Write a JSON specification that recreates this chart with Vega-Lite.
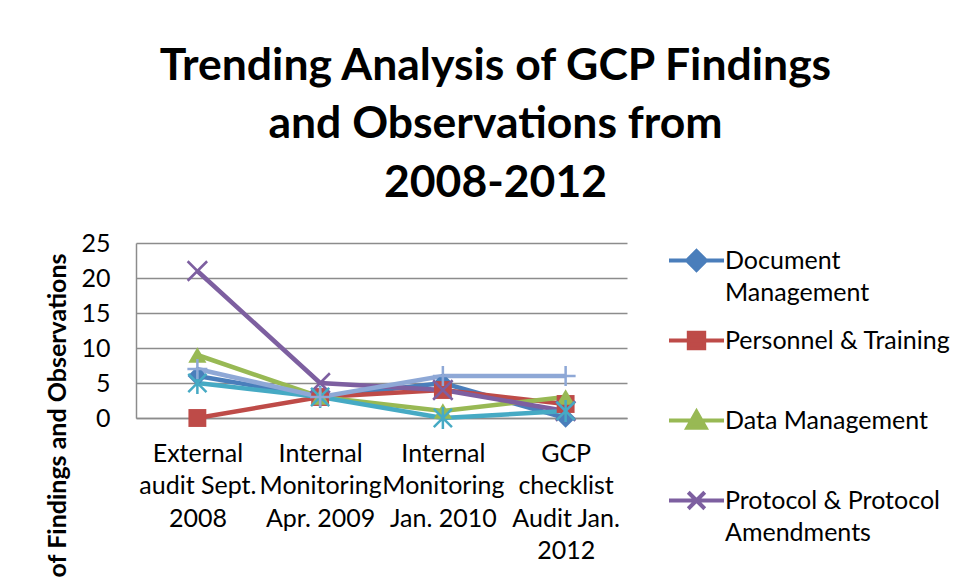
{
  "$schema": "https://vega.github.io/schema/vega-lite/v6.json",
  "width": 491,
  "height": 175,
  "autosize": {"type": "none"},
  "padding": {"left": 136, "top": 243, "right": 337, "bottom": 159},
  "background": "white",
  "title": {
    "text": ["Trending Analysis of  GCP Findings", "and Observations from", "2008-2012"],
    "font": "Lato",
    "fontWeight": "bold",
    "fontSize": 44.5,
    "lineHeight": 58.5,
    "color": "#000000",
    "anchor": "middle",
    "frame": "group",
    "dx": 114,
    "offset": 25
  },
  "data": {
    "values": [
      {"period": "External audit Sept. 2008", "series": "Document Management", "count": 6},
      {"period": "Internal Monitoring Apr. 2009", "series": "Document Management", "count": 3},
      {"period": "Internal Monitoring Jan. 2010", "series": "Document Management", "count": 5},
      {"period": "GCP checklist Audit Jan. 2012", "series": "Document Management", "count": 0},
      {"period": "External audit Sept. 2008", "series": "Personnel & Training", "count": 0},
      {"period": "Internal Monitoring Apr. 2009", "series": "Personnel & Training", "count": 3},
      {"period": "Internal Monitoring Jan. 2010", "series": "Personnel & Training", "count": 4},
      {"period": "GCP checklist Audit Jan. 2012", "series": "Personnel & Training", "count": 2},
      {"period": "External audit Sept. 2008", "series": "Data Management", "count": 9},
      {"period": "Internal Monitoring Apr. 2009", "series": "Data Management", "count": 3},
      {"period": "Internal Monitoring Jan. 2010", "series": "Data Management", "count": 1},
      {"period": "GCP checklist Audit Jan. 2012", "series": "Data Management", "count": 3},
      {"period": "External audit Sept. 2008", "series": "Protocol & Protocol Amendments", "count": 21},
      {"period": "Internal Monitoring Apr. 2009", "series": "Protocol & Protocol Amendments", "count": 5},
      {"period": "Internal Monitoring Jan. 2010", "series": "Protocol & Protocol Amendments", "count": 4},
      {"period": "GCP checklist Audit Jan. 2012", "series": "Protocol & Protocol Amendments", "count": 1},
      {"period": "External audit Sept. 2008", "series": "Informed Consent", "count": 5},
      {"period": "Internal Monitoring Apr. 2009", "series": "Informed Consent", "count": 3},
      {"period": "Internal Monitoring Jan. 2010", "series": "Informed Consent", "count": 0},
      {"period": "GCP checklist Audit Jan. 2012", "series": "Informed Consent", "count": 1},
      {"period": "External audit Sept. 2008", "series": "Safety Reporting", "count": 7},
      {"period": "Internal Monitoring Apr. 2009", "series": "Safety Reporting", "count": 3},
      {"period": "Internal Monitoring Jan. 2010", "series": "Safety Reporting", "count": 6},
      {"period": "GCP checklist Audit Jan. 2012", "series": "Safety Reporting", "count": 6}
    ]
  },
  "encoding": {
    "x": {
      "field": "period",
      "type": "nominal",
      "sort": ["External audit Sept. 2008", "Internal Monitoring Apr. 2009", "Internal Monitoring Jan. 2010", "GCP checklist Audit Jan. 2012"],
      "axis": {
        "title": null,
        "labelAngle": 0,
        "labelFont": "Lato",
        "labelFontSize": 25,
        "labelLineHeight": 32.5,
        "labelColor": "#000000",
        "labelPadding": 23,
        "labelLimit": 400,
        "labelOverlap": false,
        "labelBound": false,
        "ticks": false,
        "domainColor": "#8c8c8c",
        "domainWidth": 1.5,
        "labelExpr": "datum.label == 'External audit Sept. 2008' ? ['External', 'audit Sept.', '2008'] : datum.label == 'Internal Monitoring Apr. 2009' ? ['Internal', 'Monitoring', 'Apr. 2009'] : datum.label == 'Internal Monitoring Jan. 2010' ? ['Internal', 'Monitoring', 'Jan. 2010'] : ['GCP', 'checklist', 'Audit Jan.', '2012']"
      }
    },
    "y": {
      "field": "count",
      "type": "quantitative",
      "scale": {"domain": [0, 25], "nice": false},
      "axis": {
        "values": [0, 5, 10, 15, 20, 25],
        "title": "Number of Findings and Observations",
        "titleFont": "Lato",
        "titleFontWeight": "bold",
        "titleFontSize": 25,
        "titleColor": "#000000",
        "titleAlign": "right",
        "titleBaseline": "middle",
        "titleX": -79,
        "titleY": 10,
        "labelFont": "Lato",
        "labelFontSize": 25,
        "labelColor": "#000000",
        "labelPadding": 26,
        "ticks": false,
        "domainColor": "#8c8c8c",
        "domainWidth": 1.5,
        "grid": true,
        "gridColor": "#8c8c8c",
        "gridWidth": 1.5
      }
    },
    "color": {
      "field": "series",
      "type": "nominal",
      "scale": {
        "domain": ["Document Management", "Personnel & Training", "Data Management", "Protocol & Protocol Amendments", "Informed Consent", "Safety Reporting"],
        "range": ["#4A7EBB", "#BE4B48", "#98B954", "#7D5FA0", "#46AAC4", "#8EA8D6"]
      },
      "legend": {
        "title": null,
        "orient": "none",
        "legendX": 531,
        "legendY": -12,
        "padding": 0,
        "symbolSize": 3025,
        "symbolStrokeWidth": 4,
        "symbolOpacity": 1,
        "labelOffset": -1,
        "labelFont": "Lato",
        "labelFontSize": 25,
        "labelColor": "#000000",
        "labelLimit": 400,
        "labelBaseline": "middle",
        "rowPadding": 5,
        "labelExpr": "datum.label == 'Document Management' ? ['Document', 'Management'] : datum.label == 'Protocol & Protocol Amendments' ? ['Protocol & Protocol', 'Amendments', ''] : [datum.label, '']",
        "encode": {
          "labels": {
            "update": {"lineHeight": {"value": 32}}
          },
          "symbols": {
            "update": {
              "shape": {"signal": "datum.value == 'Document Management' ? 'M-1,0L1,0M0,-0.34L0.34,0L0,0.34L-0.34,0Z' : datum.value == 'Personnel & Training' ? 'M-1,0L1,0M-0.28,-0.28L0.28,-0.28L0.28,0.28L-0.28,0.28Z' : datum.value == 'Data Management' ? 'M-1,0L1,0M0,-0.32L0.33,0.26L-0.33,0.26Z' : datum.value == 'Protocol & Protocol Amendments' ? 'M-1,0L1,0M-0.3,-0.3L0.3,0.3M-0.3,0.3L0.3,-0.3' : datum.value == 'Informed Consent' ? 'M-1,0L1,0M-0.3,-0.3L0.3,0.3M-0.3,0.3L0.3,-0.3M0,-0.36L0,0.36' : 'M-1,0L1,0M0,-0.36L0,0.36'"},
              "fill": {"signal": "scale('color', datum.value)"},
              "stroke": {"signal": "scale('color', datum.value)"},
              "strokeWidth": {"value": 4}
            }
          }
        }
      }
    }
  },
  "layer": [
    {"mark": {"type": "line", "strokeWidth": 4.5}},
    {
      "transform": [{"filter": "datum.series == 'Document Management'"}],
      "mark": {"type": "point", "shape": "diamond", "filled": true, "size": 380, "opacity": 1}
    },
    {
      "transform": [{"filter": "datum.series == 'Personnel & Training'"}],
      "mark": {"type": "point", "shape": "square", "filled": true, "size": 320, "opacity": 1}
    },
    {
      "transform": [{"filter": "datum.series == 'Data Management'"}],
      "mark": {"type": "point", "shape": "triangle-up", "filled": true, "size": 330, "opacity": 1}
    },
    {
      "transform": [{"filter": "datum.series == 'Protocol & Protocol Amendments'"}],
      "mark": {"type": "point", "shape": "M-1,-1L1,1M-1,1L1,-1", "filled": false, "size": 380, "strokeWidth": 2.5, "opacity": 1}
    },
    {
      "transform": [{"filter": "datum.series == 'Informed Consent'"}],
      "mark": {"type": "point", "shape": "M-1,-1L1,1M-1,1L1,-1M0,-1.2L0,1.2", "filled": false, "size": 330, "strokeWidth": 2.5, "opacity": 1}
    },
    {
      "transform": [{"filter": "datum.series == 'Safety Reporting'"}],
      "mark": {"type": "point", "shape": "M-1.1,0L1.1,0M0,-1.1L0,1.1", "filled": false, "size": 330, "strokeWidth": 2.5, "opacity": 1}
    }
  ],
  "config": {
    "view": {"stroke": null}
  }
}
